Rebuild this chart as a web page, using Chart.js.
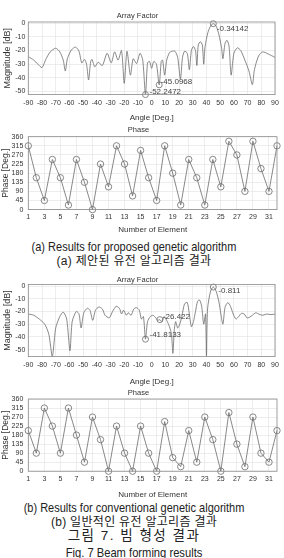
<!DOCTYPE html>
<html>
<head>
<meta charset="utf-8">
<script src="https://cdn.jsdelivr.net/npm/chart.js@4.4.1/dist/chart.umd.min.js"></script>
<style>
  html, body { margin: 0; padding: 0; background: #fff; }
  body { width: 284px; height: 558px; position: relative; overflow: hidden; font-family: 'Liberation Sans', Arial, sans-serif; }
  .panel { position: absolute; left: 0; width: 284px; }
  .cap { position: absolute; left: 0; width: 268px; text-align: center; white-space: nowrap; color: #222; line-height: 1; font-family: 'Liberation Sans', 'Noto Sans CJK KR', sans-serif; }
  .ko { font-size: 12px; letter-spacing: 0.3px; }
</style>
</head>
<body>
<div class="panel" style="top:0;height:124px"><canvas id="afChart1"></canvas></div>
<div class="panel" style="top:124px;height:112px"><canvas id="phaseChart1"></canvas></div>
<div class="cap" style="top:242px;font-size:11px;transform:scaleY(1.1)">(a) Results for proposed genetic algorithm</div>
<div class="cap ko" style="top:255px">(a) 제안된 유전 알고리즘 결과</div>
<div class="panel" style="top:268px;height:120px"><canvas id="afChart2"></canvas></div>
<div class="panel" style="top:388px;height:112px"><canvas id="phaseChart2"></canvas></div>
<div class="cap" style="top:503px;font-size:11px;transform:scaleY(1.1)">(b) Results for conventional genetic algorithm</div>
<div class="cap ko" style="top:516px">(b) 일반적인 유전 알고리즘 결과</div>
<div class="cap" style="top:528.5px;font-size:13.5px;letter-spacing:1.5px">그림 7. 빔 형성 결과</div>
<div class="cap" style="top:545.5px;font-size:13px;transform:scaleX(0.86)">Fig. 7 Beam forming results</div>

<script>
// Array factor, proposed GA (angle in deg, magnitude in dB)
const angles1 = [-90, -86, -83, -80, -77, -74, -70, -67, -64.5, -63, -61.5, -58.5, -55.5, -53, -51, -49, -47.5, -46,
  -44.5, -43.5, -41.5, -39, -36, -32.5, -29.5, -27, -24.5, -22, -20, -18, -15.5, -13.5, -11, -8.5, -6.5, -4.5,
  -3, -1.5, 0, 1.5, 3.5, 5.5, 7, 8, 9.5, 11, 13, 15, 17, 19, 21, 22.5, 24, 26, 27.5, 29, 30.5, 32, 33, 34, 35.5,
  37, 38, 39, 41, 43, 45, 47, 49, 51, 52, 53.5, 55, 56.5, 58, 60, 62.5, 65, 68, 71, 73.5, 75, 78, 81, 85, 90];
const mags1 = [-24.5, -27, -30, -32.5, -26, -21, -18.3, -21, -27, -35, -26, -19.5, -17.5, -20.5, -29, -26.5, -30, -41.5,
  -28, -26.5, -32, -28.5, -31, -22, -29, -21, -27, -20, -44, -20.5, -38, -26, -29.5, -22, -27, -52.2472,
  -29, -28, -33, -28, -30, -45.0968, -28, -27, -38, -27, -21.5, -20.5, -20.5, -25, -41, -25, -20.5, -22, -34, -20, -17, -20, -31, -16, -13.5,
  -16, -30, -17, -7, -2, -0.34142, -2, -8, -18, -26, -15, -12.5, -17, -38, -22, -18, -20, -27, -35, -45, -34, -24, -21, -22.5, -25];
const tipAngles1 = [45, 5.5, -4.5];
const tipMags1 = [-0.34142, -45.0968, -52.2472];

// Array factor, conventional GA
const angles2 = [-90, -86, -82, -78, -75, -72.5, -70, -67, -64.5, -62, -59.6, -58, -55, -53, -51.5, -49.5, -47, -45,
  -43, -41, -38.5, -36, -34, -31, -28.5, -26, -23.5, -22, -20.5, -18.5, -17, -15, -13, -11, -9, -7.5, -6, -4.5,
  -3, -1, 1, 3, 4.5, 6, 7.5, 9, 11, 13, 14.5, 15.5, 16.5, 17.5, 19, 20.5, 22, 24, 26, 27.5, 29, 30.5, 32, 33.5,
  35, 36.5, 38, 39.3, 40, 40.8, 43, 45, 47, 49, 50.5, 52, 53.5, 55.5, 57.5, 59.5, 61.5, 63.5, 65.5, 67.5, 69.5,
  71.5, 73.5, 76, 78, 81, 84, 87, 90];
const mags2 = [-22, -23, -26, -30, -38, -55.5, -33, -24, -20.5, -26, -51, -28, -20, -22, -33, -21, -17.5, -19,
  -27, -19, -16.5, -18, -23, -25, -20, -16, -17.5, -22, -19, -23, -21, -23, -18, -17, -19, -26, -24, -41.8133,
  -28, -24, -23, -25, -27, -26.422, -28, -24, -27, -32, -38, -53, -35, -28, -33, -30, -24, -14, -13, -22, -32, -28, -20, -12,
  -11, -16, -30, -22, -55, -18, -4, -0.811, -4, -12, -22, -30, -17, -13, -16, -22, -26, -24, -21.5, -22, -25,
  -24.5, -23, -21, -22, -23, -22, -22.5, -22];
const tipAngles2 = [45, 6, -4.5];
const tipMags2 = [-0.811, -26.422, -41.8133];

// Phase per element [deg]
const elements = [1, 2, 3, 4, 5, 6, 7, 8, 9, 10, 11, 12, 13, 14, 15, 16,
  17, 18, 19, 20, 21, 22, 23, 24, 25, 26, 27, 28, 29, 30, 31, 32];
const phase1 = [315, 157.5, 45, 247.5, 157.5, 22.5, 247.5, 135, 0, 225, 112.5, 315, 225, 67.5, 292.5, 157.5,
  45, 315, 180, 22.5, 247.5, 157.5, 22.5, 247.5, 112.5, 337.5, 270, 90, 337.5, 202.5, 90, 315];
const phase2 = [202.5, 90, 315, 225, 90, 315, 180, 45, 270, 157.5, 0, 225, 90, 0, 225, 90,
  0, 247.5, 67.5, 22.5, 202.5, 45, 270, 157.5, 0, 292.5, 135, 22.5, 270, 90, 45, 202.5];

// Tick labels
const magTicks = [-50, -40, -30, -20, -10, 0];
const phaseTicks = [0, 45, 90, 135, 180, 225, 270, 315, 360];
const elementTicks = [1, 3, 5, 7, 9, 11, 13, 15, 17, 19, 21, 23, 25, 27, 29, 31];

const FONT = "'Liberation Sans', Arial, sans-serif";
const LINE = '#6b6b6b';
const TEXT = '#333';
const GRID = '#e0e0e0';

// box around the plot area, like matlab "box on"
const boxPlugin = {
  id: 'box',
  afterDatasetsDraw(chart) {
    const { ctx, chartArea: a } = chart;
    ctx.save();
    ctx.strokeStyle = '#8a8a8a';
    ctx.lineWidth = 0.8;
    ctx.strokeRect(a.left, a.top, a.right - a.left, a.bottom - a.top);
    ctx.restore();
  }
};

// data tip labels next to the circle markers
const tipPlugin = {
  id: 'tips',
  afterDatasetsDraw(chart, args, opts) {
    if (!opts.offsets) return;
    const meta = chart.getDatasetMeta(1);
    const data = chart.data.datasets[1].data;
    const { ctx } = chart;
    ctx.save();
    ctx.font = '8px ' + FONT;
    ctx.fillStyle = '#444';
    ctx.textAlign = 'left';
    ctx.textBaseline = 'middle';
    meta.data.forEach((pt, i) => {
      const [dx, dy] = opts.offsets[i];
      ctx.fillText(String(data[i].y), pt.x + dx, pt.y + dy);
    });
    ctx.restore();
  }
};

function axisBase(tickValues, tickPad) {
  return {
    type: 'linear',
    afterBuildTicks: s => { s.ticks = tickValues.map(v => ({ value: v })); },
    ticks: { font: { family: FONT, size: 7 }, color: TEXT, padding: tickPad, maxRotation: 0, autoSkip: false },
    grid: { color: GRID, lineWidth: 0.6, drawTicks: false },
    border: { display: false }
  };
}

function createArrayFactorChart(id, angles, mags, tipAngles, tipMags, yMin, yMax, lay) {
  const x = axisBase([], lay.xTickPad);
  delete x.afterBuildTicks;
  x.min = -90;
  x.max = 90;
  x.ticks.stepSize = 10;
  x.title = { display: true, text: 'Angle [Deg.]', color: TEXT, font: { family: FONT, size: 8 }, padding: { top: lay.xTitleTop, bottom: lay.xTitleBottom } };

  const y = axisBase(magTicks, 3);
  y.min = yMin;
  y.max = yMax;
  y.afterFit = s => { s.width = 28.3; };
  y.title = { display: true, text: 'Magnitude [dB]', color: TEXT, font: { family: FONT, size: 9 }, padding: { top: 1.8, bottom: 0 } };

  new Chart(document.getElementById(id), {
    type: 'line',
    data: {
      datasets: [{
        data: angles.map((a, i) => ({ x: a, y: mags[i] })),
        borderColor: LINE,
        borderWidth: 0.8,
        pointRadius: 0,
        tension: 0.25
      }, {
        data: tipAngles.map((a, i) => ({ x: a, y: tipMags[i] })),
        showLine: false,
        pointRadius: 3,
        borderColor: LINE,
        borderWidth: 0.8,
        backgroundColor: 'rgba(0,0,0,0)',
        clip: false
      }]
    },
    options: {
      responsive: true,
      maintainAspectRatio: false,
      animation: false,
      layout: { padding: { left: 0, right: lay.right, top: 0, bottom: 0 } },
      plugins: {
        legend: { display: false },
        tooltip: { enabled: false },
        title: {
          display: true, text: 'Array Factor', color: TEXT,
          font: { family: FONT, size: 7.5, weight: 'normal' },
          padding: { top: lay.titleTop, bottom: lay.titleBottom }
        },
        tips: { offsets: lay.tipOffsets }
      },
      scales: { x, y }
    },
    plugins: [boxPlugin, tipPlugin]
  });
}

function createPhaseChart(id, phases, lay) {
  const x = axisBase(elementTicks, lay.xTickPad);
  x.min = 1;
  x.max = 32;
  x.title = { display: true, text: 'Number of Element', color: TEXT, font: { family: FONT, size: 8 }, padding: { top: lay.xTitleTop, bottom: lay.xTitleBottom } };

  const y = axisBase(phaseTicks, 5);
  y.min = 0;
  y.max = 360;
  y.afterFit = s => { s.width = 28.3; };
  y.title = { display: true, text: 'Phase [Deg.]', color: TEXT, font: { family: FONT, size: 8.5 }, padding: { top: 1, bottom: 0 } };

  new Chart(document.getElementById(id), {
    type: 'line',
    data: {
      datasets: [{
        data: elements.map((e, i) => ({ x: e, y: phases[i] })),
        borderColor: LINE,
        borderWidth: 0.8,
        pointRadius: 3.2,
        pointBorderColor: LINE,
        pointBorderWidth: 0.8,
        pointBackgroundColor: 'rgba(0,0,0,0)',
        tension: 0,
        clip: false
      }]
    },
    options: {
      responsive: true,
      maintainAspectRatio: false,
      animation: false,
      layout: { padding: { left: 0, right: lay.right, top: 0, bottom: 0 } },
      plugins: {
        legend: { display: false },
        tooltip: { enabled: false },
        title: {
          display: true, text: 'Phase', color: TEXT,
          font: { family: FONT, size: 7.5, weight: 'normal' },
          padding: { top: lay.titleTop, bottom: lay.titleBottom }
        }
      },
      scales: { x, y }
    },
    plugins: [boxPlugin]
  });
}

createArrayFactorChart('afChart1', angles1, mags1, tipAngles1, tipMags1, -52.25, 0.9, {
  right: 9, titleTop: 11.5, titleBottom: 1.5, xTickPad: 4.1, xTitleTop: 2, xTitleBottom: 1.2,
  tipOffsets: [[3.5, 5], [1.5, -3.5], [4, -3]]
});
createPhaseChart('phaseChart1', phase1, {
  right: 7, titleTop: 1.5, titleBottom: 2.2, xTickPad: 3.1, xTitleTop: 1, xTitleBottom: 1.2
});
createArrayFactorChart('afChart2', angles2, mags2, tipAngles2, tipMags2, -55.5, 1.2, {
  right: 9, titleTop: 7.5, titleBottom: 0, xTickPad: 4.1, xTitleTop: 3.5, xTitleBottom: 1.7,
  tipOffsets: [[5, 4], [3, -2.5], [4, -4]]
});
createPhaseChart('phaseChart2', phase2, {
  right: 7, titleTop: 0.8, titleBottom: 1.2, xTickPad: 3.8, xTitleTop: 3, xTitleBottom: 0.2
});
</script>
</body>
</html>
